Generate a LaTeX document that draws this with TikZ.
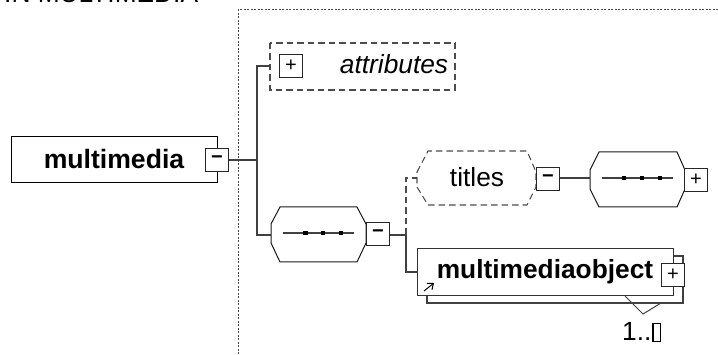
\documentclass[tikz,border=0pt]{standalone}
\usepackage{fontspec}
\usetikzlibrary{arrows.meta}
\setmainfont{Liberation Sans}
\tikzset{
  conn/.style={draw=black!75,line width=1.05pt},
  edge/.style={draw=black!90,line width=1pt,fill=white},
  dashedge/.style={draw=black!70,line width=1.05pt,dash pattern=on 6.5pt off 4pt,fill=white},
  toggle/.style={draw=black!85,line width=1pt,fill=white,minimum size=23.5pt,inner sep=0pt,font=\fontsize{20}{20}\selectfont},
  lab/.style={inner sep=0pt,anchor=base,font=\fontsize{26.3}{26}\selectfont},
  dot/.style={fill=black,inner sep=0pt,minimum size=4.5pt}
}
\begin{document}
\begin{tikzpicture}[x=1pt,y=-1pt]
\useasboundingbox (0,0) rectangle (718,355);
\clip (0,0) rectangle (718,355);
% title, cut by the top edge
\node[lab,anchor=base west] (title) at (4,3) {IN MULTIMEDIA};
% dotted frame
\draw[draw=black!70,line width=1pt,dash pattern=on 2pt off 1.5pt] (718,10) -- (238,10) -- (238,355);
% multimedia
\node[draw=black,line width=1pt,fill=white,minimum width=206pt,minimum height=46pt,inner sep=0pt] (mm) at (114,160) {};
\node[lab,font=\fontsize{26.6}{26}\selectfont\bfseries] (mmt) at (114,169) {multimedia};
\node[toggle,font=\fontsize{20}{20}\selectfont\bfseries] (mmtog) at (217,160) {−};
\coordinate (fork) at (257,160);
% attributes
\draw[dashedge] (270,43) rectangle (455,90);
\coordinate (attr) at (270,66);
\node[toggle] (attrtog) at (291,66) {+};
\node[lab,font=\fontsize{26.3}{26}\selectfont\itshape] (attrt) at (394,74) {attributes};
% sequence 1
\draw[edge] (271,224) -- (280,207) -- (357,207) -- (366,224) -- (366,243) -- (357,262) -- (280,262) -- (271,243) -- cycle;
\coordinate (s1) at (271,235);
\draw[conn] (283,233) -- (354,233);
\node[dot] (s1a) at (305.5,233) {};
\node[dot] (s1b) at (323,233) {};
\node[dot] (s1c) at (341,233) {};
\node[toggle,font=\fontsize{20}{20}\selectfont\bfseries] (s1tog) at (378,234) {−};
\coordinate (fork2) at (406,235);
% titles
\draw[dashedge] (417,172) -- (428,151) -- (527,151) -- (536,172) -- (536,187) -- (527,205) -- (428,205) -- (417,187) -- cycle;
\coordinate (tit) at (417,178);
\node[lab] (titt) at (477,187) {titles};
\node[toggle,font=\fontsize{20}{20}\selectfont\bfseries] (tittog) at (548,179) {−};
% sequence 2
\draw[edge] (590,170) -- (599,152) -- (677,152) -- (685,170) -- (685,189) -- (677,207) -- (599,207) -- (590,189) -- cycle;
\coordinate (s2) at (590,178);
\draw[conn] (602,178) -- (673,178);
\node[dot] (s2a) at (624,178) {};
\node[dot] (s2b) at (642,178) {};
\node[dot] (s2c) at (660,178) {};
\node[toggle] (s2tog) at (696,180) {+};
% multimediaobject
\draw[conn,fill=white] (427,296) -- (427,303) -- (683,303) -- (683,256) -- (673,256);
\draw[edge,draw=black!80] (417,249) rectangle (673,296);
\coordinate (mo) at (417,272);
\node[lab,font=\fontsize{26.3}{25}\selectfont\bfseries] (mot) at (545,279) {multimediaobject};
\node[toggle] (motog) at (673,275) {+};
\draw[line width=1pt,-{Straight Barb[length=5pt,width=8pt]}] (424,291) -- (434,283);
\draw[conn,line width=1pt] (625,296) -- (643,314) -- (661,303);
\node[lab,anchor=base west,font=\fontsize{26.3}{26}\selectfont] (card) at (622,341) {1..\kern1pt\fboxsep=0pt\fboxrule=1.1pt\fbox{\rule{6pt}{0pt}\rule{0pt}{17pt}}};
% connectors
\draw[conn] (mmtog.east) -- (fork);
\draw[conn] (attr) -- (257,66) -- (257,235) -- (s1);
\draw[conn] (s1tog.east |- fork2) -- (fork2);
\draw[conn] (fork2) |- (mo);
\draw[draw=black!70,line width=1.05pt,dash pattern=on 6.5pt off 4pt] (fork2) |- (tit);
\draw[conn] (tittog.east |- s2) -- (s2);
\end{tikzpicture}
\end{document}
